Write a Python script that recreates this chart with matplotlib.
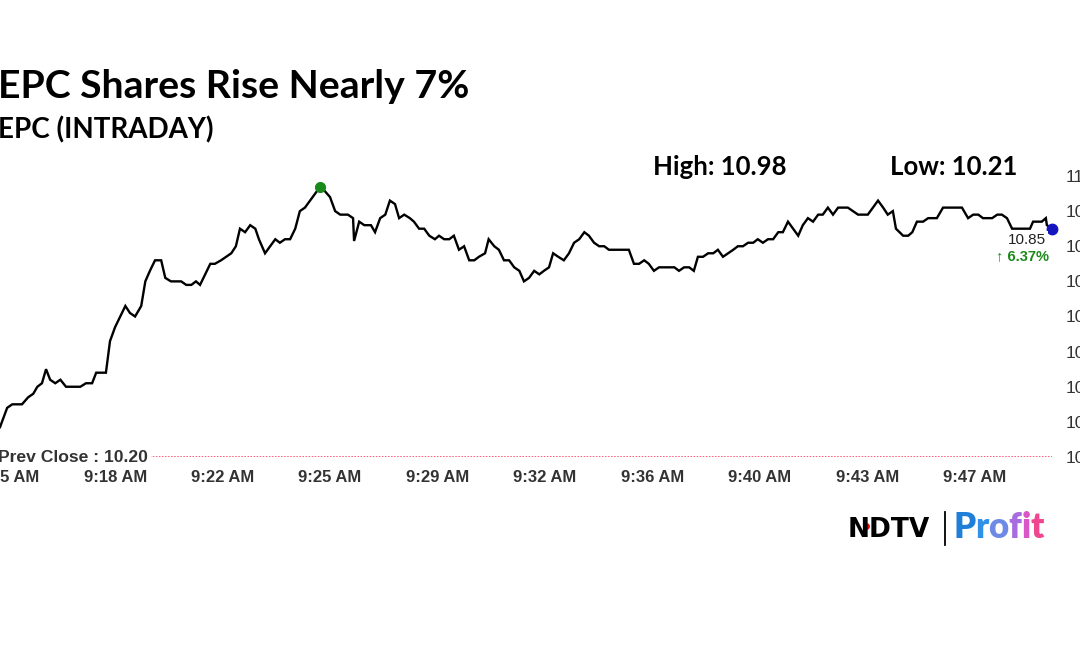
import matplotlib
matplotlib.use("Agg")
import matplotlib.pyplot as plt
from matplotlib.lines import Line2D

# intraday prices, time in seconds after 9:15:00
times = [-15, -1, 9, 28, 40, 50, 58, 67, 75, 83, 93, 103, 114, 142, 153, 165, 173, 192,
         200, 210, 220, 230, 239, 249, 261, 269, 278, 288, 300, 308, 319, 339, 349, 359,
         368, 376, 386, 396, 405, 417, 427, 437, 446, 454, 464, 474, 484, 491, 503, 513,
         523, 532, 542, 552, 562, 571, 581, 591, 601, 611, 618, 630, 640, 650, 665, 675,
         677, 687, 697, 710, 718, 728, 738, 747, 757, 765, 775, 786, 794, 804, 814, 824,
         835, 843, 853, 863, 872, 882, 892, 902, 912, 921, 933, 940, 951, 960, 970, 980,
         990, 1000, 1009, 1019, 1029, 1039, 1048, 1058, 1066, 1076, 1087, 1097, 1107, 1117,
         1127, 1136, 1146, 1156, 1166, 1175, 1195, 1214, 1224, 1234, 1244, 1253, 1263, 1273,
         1283, 1303, 1312, 1322, 1332, 1341, 1349, 1359, 1369, 1379, 1388, 1398, 1408, 1418,
         1427, 1437, 1447, 1457, 1466, 1476, 1486, 1496, 1506, 1515, 1525, 1535, 1545, 1554,
         1564, 1574, 1584, 1593, 1603, 1613, 1623, 1632, 1642, 1652, 1662, 1672, 1681, 1691,
         1701, 1711, 1720, 1730, 1736, 1750, 1760, 1768, 1777, 1789, 1799, 1807, 1816, 1828,
         1838, 1855, 1865, 1877, 1887, 1897, 1906, 1924, 1934, 1943, 1953, 1963, 1972, 1998,
         2004, 2021, 2029, 2031, 2041]
prices = [10.285, 10.34, 10.35, 10.35, 10.37, 10.38, 10.40, 10.41, 10.45, 10.42, 10.41, 10.42,
          10.40, 10.40, 10.41, 10.41, 10.44, 10.44, 10.53, 10.57, 10.60, 10.63, 10.61, 10.60,
          10.63, 10.70, 10.73, 10.76, 10.76, 10.71, 10.70, 10.70, 10.69, 10.69, 10.70, 10.69,
          10.72, 10.75, 10.75, 10.76, 10.77, 10.78, 10.80, 10.85, 10.84, 10.86, 10.85, 10.82,
          10.78, 10.80, 10.82, 10.81, 10.82, 10.82, 10.85, 10.90, 10.91, 10.93, 10.95, 10.97,
          10.96, 10.94, 10.90, 10.89, 10.89, 10.88, 10.815, 10.87, 10.86, 10.86, 10.84, 10.88,
          10.89, 10.93, 10.92, 10.88, 10.89, 10.88, 10.87, 10.85, 10.85, 10.83, 10.82, 10.83,
          10.82, 10.82, 10.83, 10.79, 10.80, 10.76, 10.76, 10.77, 10.78, 10.82, 10.80, 10.79,
          10.76, 10.76, 10.74, 10.73, 10.70, 10.71, 10.73, 10.72, 10.73, 10.74, 10.78, 10.77,
          10.76, 10.78, 10.81, 10.82, 10.84, 10.83, 10.81, 10.80, 10.80, 10.79, 10.79, 10.79,
          10.75, 10.75, 10.76, 10.75, 10.73, 10.74, 10.74, 10.74, 10.73, 10.74, 10.74, 10.73,
          10.77, 10.77, 10.78, 10.78, 10.79, 10.77, 10.78, 10.79, 10.80, 10.80, 10.81, 10.81,
          10.82, 10.81, 10.82, 10.82, 10.84, 10.84, 10.87, 10.85, 10.83, 10.86, 10.88, 10.87,
          10.89, 10.89, 10.91, 10.89, 10.91, 10.91, 10.91, 10.90, 10.89, 10.89, 10.89, 10.91,
          10.93, 10.91, 10.89, 10.90, 10.85, 10.83, 10.83, 10.84, 10.87, 10.87, 10.88, 10.88,
          10.88, 10.91, 10.91, 10.91, 10.91, 10.88, 10.89, 10.89, 10.88, 10.88, 10.89, 10.89,
          10.88, 10.85, 10.85, 10.85, 10.87, 10.87, 10.88, 10.86, 10.85]

prev_close = 10.20
high, low = 10.98, 10.21
last_price = 10.85
change_pct = 6.37
y_ticks = [10.2, 10.3, 10.4, 10.5, 10.6, 10.7, 10.8, 10.9, 11.0]
x_tick_secs = [0, 210, 420, 630, 840, 1050, 1260, 1470, 1680, 1890]
x_tick_labels = ["9:15 AM", "9:18 AM", "9:22 AM", "9:25 AM", "9:29 AM",
                 "9:32 AM", "9:36 AM", "9:40 AM", "9:43 AM", "9:47 AM"]

W, H = 1080, 648


def fx(x):
    return x / W


def fy(y):
    return 1 - y / H


fig = plt.figure(figsize=(10.8, 6.48), dpi=100)
fig.patch.set_facecolor("white")
ax = fig.add_axes([fx(0), fy(457), fx(1052), (457 - 176) / H])
for s in ax.spines.values():
    s.set_visible(False)

ax.plot(times, prices, color="black", lw=1.7, zorder=3, solid_joinstyle="miter")
ax.set_xlim(times[0], times[-1])
ax.set_ylim(10.2, 11.0)

ax.axhline(prev_close, color="#ff3355", lw=1.1, ls=(0, (1, 1)), zorder=2)

# high point and last point
i_hi = prices.index(max(prices))
ax.plot([times[i_hi]], [prices[i_hi]], "o", color="#1a8a1a", ms=7, zorder=5, clip_on=False)
ax.plot([times[-1]], [prices[-1]], "o", color="#1515c0", ms=7.5, zorder=5, clip_on=False)

ax.yaxis.tick_right()
ax.set_yticks(y_ticks)
ax.set_yticklabels([f"{v:.2f}" for v in y_ticks], fontsize=12.5, color="#333333",
                   family="Liberation Sans")
ax.set_xticks(x_tick_secs)
ax.set_xticklabels(x_tick_labels, fontsize=12, color="#333333", fontweight="bold",
                   family="Liberation Sans")
ax.tick_params(axis="y", length=0, pad=10)
ax.tick_params(axis="x", length=0, pad=9)

# prev close label
fig.text(fx(148), fy(457), f"Prev Close : {prev_close:.2f}", ha="right", va="center",
         fontsize=12.6, fontweight="bold", color="#333333", family="Liberation Sans",
         bbox=dict(facecolor="white", edgecolor="none", pad=2))

# last price label
fig.text(fx(1027), fy(240), f"{last_price:.2f}", ha="center", va="center", fontsize=11,
         color="#222222", family="Liberation Sans",
         bbox=dict(facecolor="white", edgecolor="none", pad=1.5), zorder=6)
fig.text(fx(1022), fy(256), f"\u2191 {change_pct:.2f}%", ha="center", va="center",
         fontsize=10.5, fontweight="bold", color="#1a8a1a",
         family=["Liberation Sans", "DejaVu Sans"])

# titles
fig.text(fx(-2), fy(98), "EPC Shares Rise Nearly 7%", ha="left", va="baseline",
         fontsize=28.3, fontweight="bold", family="Lato")
fig.text(fx(-2), fy(138), "EPC (INTRADAY)", ha="left", va="baseline",
         fontsize=20, fontweight="bold", family="Lato")
fig.text(fx(653), fy(175), f"High: {high:.2f}", ha="left", va="baseline",
         fontsize=18.5, fontweight="bold", family="Lato")
fig.text(fx(890), fy(175), f"Low: {low:.2f}", ha="left", va="baseline",
         fontsize=18.5, fontweight="bold", family="Lato")

# logo
fig.text(fx(848), fy(537), "NDTV", ha="left", va="baseline", fontsize=19,
         fontweight="bold", family="DejaVu Sans", color="black")
fig.add_artist(Line2D([fx(866)], [fy(526)], marker="o", ms=4, color="#e01010",
                      transform=fig.transFigure))
fig.add_artist(Line2D([fx(945), fx(945)], [fy(512), fy(545)], color="black", lw=1.3,
                      transform=fig.transFigure))
renderer = fig.canvas.get_renderer()
profit_colors = ["#1f7fd8", "#2f92e8", "#6f8ae6", "#a66ce0", "#d957c8", "#f0468f"]
cur = 953
for ch, col in zip("Profit", profit_colors):
    t = fig.text(fx(cur), fy(538), ch, ha="left", va="baseline", fontsize=25,
                 fontweight="heavy", family="Lato", color=col)
    cur += t.get_window_extent(renderer).width

fig.savefig("out.png", dpi=100, facecolor="white")
